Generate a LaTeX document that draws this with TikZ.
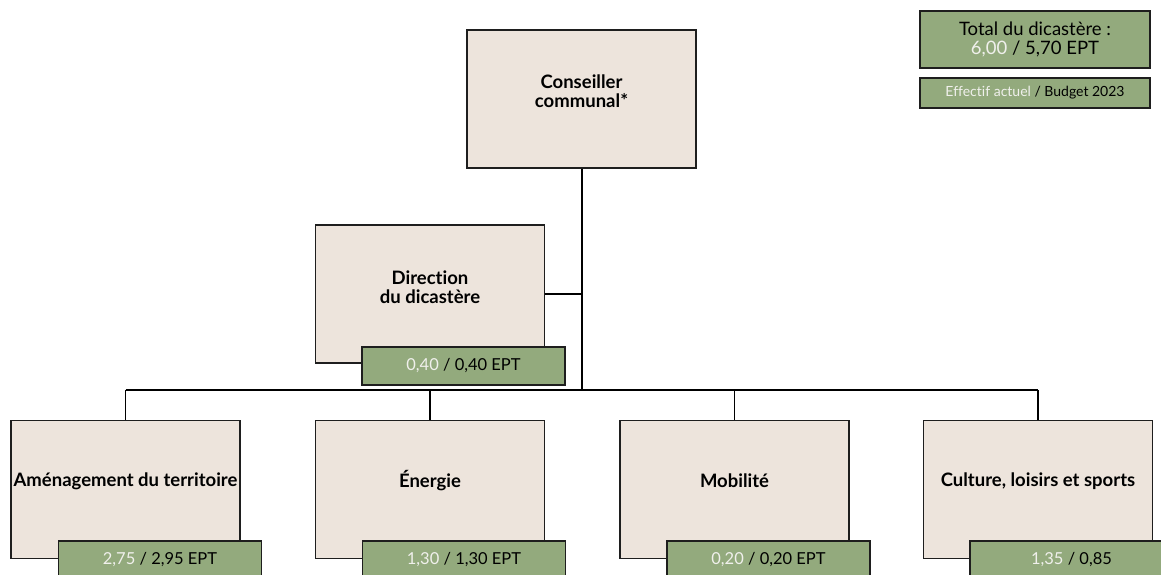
\documentclass[tikz,border=0pt]{standalone}
\usepackage{fontspec}
\setmainfont{Lato}[Ligatures=NoCommon]
\definecolor{beige}{RGB}{237,228,220}
\definecolor{sage}{RGB}{147,170,125}
\definecolor{numw}{RGB}{240,240,236}
\definecolor{edge}{RGB}{30,30,30}
\begin{document}
\begin{tikzpicture}[x=1pt,y=-1pt,
  unit/.style={draw=edge,line width=1.8pt,fill=beige,minimum width=229pt,minimum height=138pt,inner sep=0pt},
  utext/.style={font=\bfseries\fontsize{18.5}{19.5}\selectfont,align=center,inner sep=0pt},
  badge/.style={draw=edge,line width=1.8pt,fill=sage,minimum width=203pt,minimum height=38pt,inner sep=0pt,font=\fontsize{16.5}{18}\selectfont},
  conn/.style={draw=black,line width=1.6pt}]
\useasboundingbox (0,0) rectangle (1161,575);
\clip (0,0) rectangle (1161,575);
% top
\node[unit] (cc) at (581.5,99) {};
\node[utext] (cct) at (581.5,91) {Conseiller\\communal*};
% direction
\node[unit] (dir) at (430,294) {};
\node[utext] (dirt) at (430,287) {Direction\\du dicastère};
% bottom row
\node[unit] (a) at (125.5,489.5) {};
\node[unit] (b) at (430,489.5) {};
\node[unit] (c) at (734.5,489.5) {};
\node[unit] (d) at (1038,489.5) {};
\node[utext] (at) at (125.5,481) {Aménagement du territoire};
\node[utext] (bt) at (430,481) {Énergie};
\node[utext] (ct) at (734.5,481) {Mobilité};
\node[utext] (dt) at (1038,481) {Culture, loisirs et sports};
% connectors
\coordinate (bus) at (582,390);
\coordinate (busL) at (125.5,390);
\coordinate (busR) at (1038,390);
\coordinate (dj) at (582,294);
\draw[conn] (cc.south -| bus) -- (bus);
\draw[conn] (dir.east) -- (dj);
\draw[conn] (busL) -- (busR);
\draw[conn] (busL) -- (a.north);
\draw[conn] (b.north |- bus) -- (b.north);
\draw[conn] (c.north |- bus) -- (c.north);
\draw[conn] (busR) -- (d.north);
% badges
\node[badge] (dirb) at (463.5,366) {\textcolor{numw}{0,40} / 0,40 EPT};
\node[badge] (ab) at (160,560) {\textcolor{numw}{2,75} / 2,95 EPT};
\node[badge] (bb) at (464,560) {\textcolor{numw}{1,30} / 1,30 EPT};
\node[badge] (cb) at (768.5,560) {\textcolor{numw}{0,20} / 0,20 EPT};
\node[badge] (db) at (1071.5,560) {\textcolor{numw}{1,35} / 0,85};
% legend
\node[draw=edge,line width=1.2pt,fill=sage,minimum width=230pt,minimum height=57pt,inner sep=0pt,align=center,font=\fontsize{18.5}{19.5}\selectfont] (tot) at (1035,39.5) {Total du dicastère :\\\textcolor{numw}{6,00} / 5,70 EPT};
\node[draw=edge,line width=1.2pt,fill=sage,minimum width=230pt,minimum height=30pt,inner sep=0pt,font=\fontsize{14}{16}\selectfont] (leg) at (1035,93) {\textcolor{numw}{Effectif actuel} / Budget 2023};
\end{tikzpicture}
\end{document}
